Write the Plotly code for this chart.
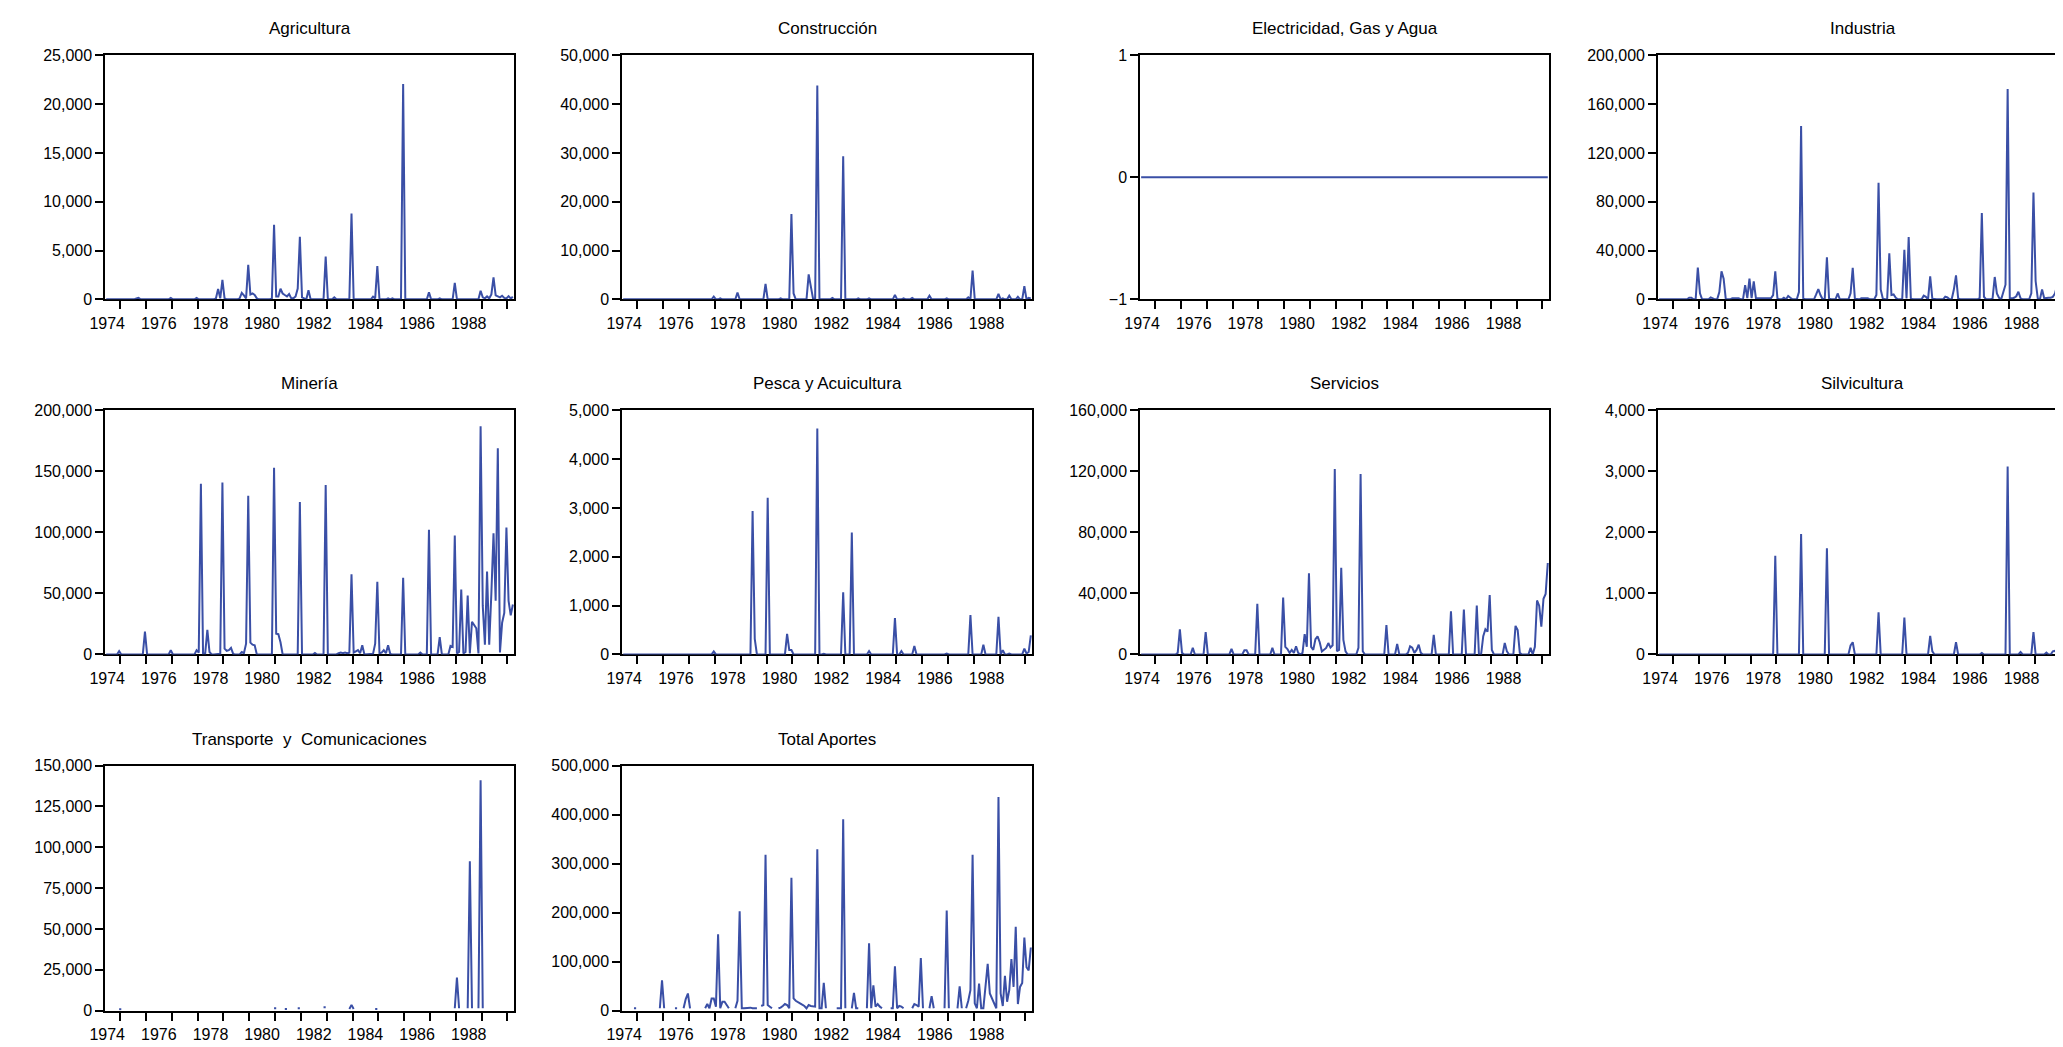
import plotly.graph_objects as go

# Aportes mensuales por sector (indice de mes 0..189, serie mensual)
N_MESES = 190
meses = list(range(N_MESES))
anios = list(range(1974, 1990))

agricultura = {
    14: 100, 15: 150, 30: 150, 42: 150,
    51: 100, 52: 1050, 53: 100, 54: 1990, 55: 100,
    62: 100, 63: 650, 64: 400, 65: 100, 66: 3530, 67: 500, 68: 600, 69: 450, 70: 100,
    77: 100, 78: 7640, 79: 300, 80: 300, 81: 1080, 82: 600, 83: 440, 84: 300, 85: 540,
    86: 100, 87: 100, 88: 300, 89: 1100, 90: 6400, 91: 200, 92: 100,
    94: 940, 102: 4375, 106: 200, 114: 8780, 124: 270, 125: 100, 126: 3400,
    131: 100, 133: 100, 138: 22070, 150: 710, 155: 100, 162: 1680,
    174: 875, 175: 200, 176: 100, 177: 300, 178: 100, 179: 500, 180: 2250, 181: 400,
    182: 300, 183: 200, 184: 370, 185: 150, 186: 100, 187: 330, 188: 100, 189: 250,
}
construccion = {
    42: 540, 45: 200, 53: 1400, 66: 3160, 73: 200, 78: 17500, 79: 1200,
    86: 5100, 87: 2900, 88: 200, 90: 43800, 97: 300, 102: 29300, 109: 200, 114: 200,
    126: 900, 130: 200, 134: 300, 142: 750, 150: 200, 160: 400, 162: 5900,
    174: 1100, 176: 200, 179: 740, 183: 500, 186: 2700, 188: 300, 189: 200,
}
electricidad = {}
industria = {
    14: 1300, 15: 1300, 18: 26100, 19: 5000, 24: 1600, 25: 800, 28: 6000, 29: 22900, 30: 17000,
    34: 800, 35: 800, 36: 800, 37: 800, 40: 11600, 41: 1000, 42: 17000, 43: 1000, 44: 14800,
    45: 1000, 46: 800, 47: 800, 48: 600, 49: 800, 50: 600, 51: 800, 52: 800,
    53: 3500, 54: 22900, 55: 800, 58: 1300, 60: 2700, 61: 1300, 65: 6000, 66: 142000, 67: 800,
    73: 4000, 74: 8300, 75: 3500, 77: 500, 78: 34500, 79: 800, 83: 4800, 89: 5000, 90: 25800,
    91: 500, 94: 800, 95: 800, 96: 1300, 97: 800, 101: 3500, 102: 95600, 103: 8000, 104: 500,
    107: 37700, 108: 3500, 109: 4000, 110: 1300, 114: 40600, 115: 800, 116: 51100, 117: 800,
    123: 3000, 124: 2100, 126: 18800, 127: 500, 133: 2100, 134: 1500, 137: 8000, 138: 19600,
    139: 800, 149: 1000, 150: 70800, 151: 2100, 155: 800, 156: 18300, 157: 4800, 158: 1300,
    160: 6200, 161: 12000, 162: 172500, 163: 800, 164: 800, 165: 1300, 166: 2500, 167: 6200,
    168: 800, 173: 5000, 174: 87500, 175: 15000, 176: 800, 178: 8000, 179: 800, 180: 1300,
    181: 1300, 182: 1300, 183: 2000, 184: 4800, 185: 11600, 186: 27200, 187: 15600,
    188: 8900, 189: 17800,
}
mineria = {
    6: 2700, 18: 18800, 30: 3500, 42: 3500, 43: 1500, 44: 140000, 45: 800, 46: 800,
    47: 20100, 48: 2000, 53: 500, 54: 141000, 55: 4800, 56: 3000, 57: 3500, 58: 5400, 59: 500,
    63: 2000, 64: 1000, 65: 8900, 66: 130000, 67: 9700, 68: 8000, 69: 7500,
    78: 153000, 79: 17000, 80: 16600, 81: 10000, 90: 125000, 97: 1300, 102: 139000,
    108: 1000, 109: 1500, 110: 1000, 111: 1500, 112: 1000, 113: 1500, 114: 65800, 115: 1500,
    116: 2500, 117: 3500, 118: 1000, 119: 7500, 124: 500, 125: 8900, 126: 59600, 127: 1000,
    128: 1500, 129: 3500, 130: 1000, 131: 7500, 132: 500, 138: 62800, 146: 1600,
    150: 102300, 155: 14200, 160: 7000, 161: 6200, 162: 97500, 163: 800, 164: 2000,
    165: 53200, 166: 800, 167: 2000, 168: 48300, 169: 800, 170: 26800, 171: 23600,
    172: 21500, 173: 800, 174: 187000, 175: 40000, 176: 8000, 177: 68000, 178: 8000,
    179: 50000, 180: 99300, 181: 44000, 182: 169000, 183: 1600, 184: 26000, 185: 34000,
    186: 104000, 187: 44000, 188: 32000, 189: 41000,
}
pesca = {
    42: 60, 60: 2940, 61: 320, 67: 3210, 76: 420, 77: 90, 78: 90, 90: 4630, 93: 15,
    102: 1275, 106: 2500, 114: 70, 126: 745, 129: 70, 135: 175, 150: 20, 161: 805,
    167: 200, 174: 772, 176: 90, 179: 20, 186: 120, 187: 20, 188: 50, 189: 390,
}
servicios = {
    17: 1000, 18: 16500, 19: 1000, 24: 4300, 30: 14600, 42: 3600, 48: 2800, 49: 2800,
    54: 33200, 61: 4300, 66: 37300, 67: 5000, 68: 3500, 69: 1000, 70: 3000, 71: 1000,
    72: 5400, 73: 1000, 75: 1000, 76: 13300, 77: 5000, 78: 53200, 79: 5000, 80: 3000,
    81: 10000, 82: 11800, 83: 8000, 84: 2000, 85: 3000, 86: 4300, 87: 7500, 88: 4500,
    89: 6000, 90: 121600, 91: 2100, 92: 3000, 93: 56800, 94: 9600, 95: 2000,
    101: 4300, 102: 118400, 103: 2100, 114: 19300, 119: 6900, 124: 1000, 125: 5400,
    126: 4500, 127: 1000, 128: 3000, 129: 6400, 130: 1000, 136: 12900, 144: 28300,
    150: 29400, 156: 32000, 159: 12000, 160: 16500, 161: 15000, 162: 39000, 163: 3000,
    169: 7500, 170: 2000, 174: 18700, 175: 16000, 176: 1000, 181: 4300, 183: 5000,
    184: 35400, 185: 32000, 186: 18200, 187: 36500, 188: 39700, 189: 60000,
}
silvicultura = {
    54: 1620, 66: 1976, 78: 1740, 89: 150, 90: 200, 102: 690, 114: 605, 126: 305, 127: 50,
    138: 200, 150: 25, 162: 3080, 168: 40, 174: 365, 180: 30, 183: 50, 184: 60,
    186: 50, 187: 440, 188: 50, 189: 880,
}
# estas dos series tienen meses sin dato (huecos en la linea)
transporte = {
    6: 800, 7: 800, 78: 1500, 79: 1500, 83: 1000, 84: 1000, 89: 1500, 90: 1500,
    101: 2000, 102: 2000, 113: 1000, 114: 3500, 115: 1000, 125: 1000, 126: 1000,
    162: 1400, 163: 20200, 164: 1400, 168: 1400, 169: 91500, 170: 1400,
    173: 1400, 174: 141000, 175: 1400,
}
total_aportes = {
    5: 4700, 6: 4700, 17: 4700, 18: 61700, 19: 4700, 24: 4700, 25: 4700,
    28: 4700, 29: 23500, 30: 34900, 31: 4700,
    38: 4700, 39: 13400, 40: 4700, 41: 24800, 42: 24800, 43: 8000, 44: 155700, 45: 4700,
    46: 18100, 47: 18100, 48: 11400, 49: 4700,
    52: 4700, 53: 20000, 54: 202600, 55: 4700, 56: 4700, 57: 5400, 58: 4700, 59: 6000,
    60: 4700, 61: 4000, 62: 4700,
    64: 9400, 65: 11400, 66: 318000, 67: 11400, 68: 8000, 69: 4700,
    72: 4700, 73: 6000, 74: 9400, 75: 13400, 76: 11400, 77: 4700, 78: 271100, 79: 24800,
    80: 20000, 81: 18100, 82: 14800, 83: 12000, 84: 9400, 85: 4700, 86: 11400, 87: 9400,
    88: 8000, 89: 8000, 90: 329500, 91: 4700, 92: 4700, 93: 56400, 94: 4700,
    99: 4700, 100: 4700, 101: 4700, 102: 390500, 103: 4700,
    106: 4700, 107: 36200, 108: 4700, 109: 4700,
    113: 4700, 114: 137600, 115: 4700, 116: 51700, 117: 8000, 118: 13400, 119: 8000, 120: 4700,
    124: 4700, 125: 4700, 126: 90600, 127: 4700, 128: 9400, 129: 8000, 130: 4700,
    134: 4700, 135: 13400, 136: 11400, 137: 8000, 138: 107400, 139: 4700,
    142: 4700, 143: 29500, 144: 4700, 149: 4700, 150: 204000, 151: 4700,
    155: 4700, 156: 49700, 157: 4700,
    159: 4700, 160: 20000, 161: 41600, 162: 318000, 163: 14800, 164: 4700, 165: 55000,
    166: 4700, 167: 4700, 168: 45000, 169: 95300, 170: 34900, 171: 25000, 172: 18100,
    173: 4700, 174: 436200, 175: 34900, 176: 9400, 177: 71100, 178: 18100, 179: 41600,
    180: 105300, 181: 48300, 182: 171100, 183: 13400, 184: 48300, 185: 56400, 186: 149000,
    187: 88600, 188: 81900, 189: 128800,
}


def armar(puntos, vacio=0):
    serie = [vacio] * N_MESES
    for mes, valor in puntos.items():
        serie[mes] = valor
    return serie


# titulo, serie, eje y (min, max, paso)
paneles = [
    ("Agricultura", armar(agricultura), 0, 25000, 5000),
    ("Construcción", armar(construccion), 0, 50000, 10000),
    ("Electricidad, Gas y Agua", armar(electricidad), -1, 1, 1),
    ("Industria", armar(industria), 0, 200000, 40000),
    ("Minería", armar(mineria), 0, 200000, 50000),
    ("Pesca y Acuicultura", armar(pesca), 0, 5000, 1000),
    ("Servicios", armar(servicios), 0, 160000, 40000),
    ("Silvicultura", armar(silvicultura), 0, 4000, 1000),
    ("Transporte  y  Comunicaciones", armar(transporte, None), 0, 150000, 25000),
    ("Total Aportes", armar(total_aportes, None), 0, 500000, 100000),
]

ANCHO, ALTO = 2063, 1047
AZUL = "#3A4FA6"
FUENTE = "Liberation Sans, Arial, sans-serif"
columnas = [(82, 494), (603, 1016), (1125, 1537), (1647, 2059)]
filas = [(40, 288), (401, 649), (762, 1011)]

# marcas en cada cambio de anio, etiqueta cada dos anios
marcas_x = [6.5 + 12 * k for k in range(len(anios))]
etiquetas_x = [str(a) if a % 2 == 0 else "" for a in anios]

fig = go.Figure()
anotaciones = []

for k, (titulo, serie, ymin, ymax, paso) in enumerate(paneles):
    fila, col = divmod(k, 4)
    x0, x1 = columnas[col]
    y0, y1 = filas[fila]
    n = "" if k == 0 else str(k + 1)

    fig.add_trace(go.Scatter(
        x=meses, y=serie, mode="lines",
        line=dict(color=AZUL, width=2),
        xaxis="x" + n, yaxis="y" + n,
        showlegend=False, hoverinfo="skip",
    ))

    eje_comun = dict(
        showline=True, linecolor="black", linewidth=2, mirror=True,
        ticks="outside", ticklen=8, tickwidth=1.5, tickcolor="black",
        showgrid=False, zeroline=False, layer="below traces",
        tickfont=dict(family=FUENTE, size=16, color="black"),
        fixedrange=True,
    )
    fig.update_layout(**{
        "xaxis" + n: dict(
            eje_comun, domain=[x0 / ANCHO, x1 / ANCHO], anchor="y" + n,
            range=[-0.4, 189.6], tickmode="array",
            tickvals=marcas_x, ticktext=etiquetas_x, ticklabelshift=-13,
        ),
        "yaxis" + n: dict(
            eje_comun, domain=[1 - y1 / ALTO, 1 - y0 / ALTO], anchor="x" + n,
            range=[ymin, ymax], tickmode="linear", tick0=ymin, dtick=paso,
            tickformat=",",
        ),
    })

    anotaciones.append(dict(
        text=titulo, xref="paper", yref="paper",
        x=(x0 + x1) / 2 / ANCHO, y=1 - (y0 - 27) / ALTO,
        xanchor="center", yanchor="middle", showarrow=False,
        font=dict(family=FUENTE, size=17, color="black"),
    ))

fig.update_layout(
    width=ANCHO, height=ALTO,
    margin=dict(l=0, r=0, t=0, b=0),
    paper_bgcolor="white", plot_bgcolor="white",
    annotations=anotaciones,
)

fig.write_html("out.html")
